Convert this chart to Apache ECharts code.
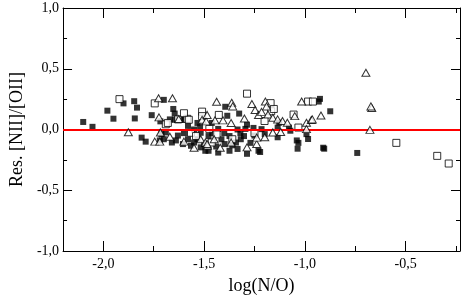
<!DOCTYPE html>
<html><head><meta charset="utf-8">
<script src="https://cdn.jsdelivr.net/npm/echarts@6/dist/echarts.min.js"></script>
<style>html,body{margin:0;padding:0;background:#fff}#c{width:463px;height:300px}</style>
</head><body><div id="c"></div>
<script>
var xMajorTicks = [-2.0, -1.5, -1.0, -0.5];
var xMinorTicks = [-1.75, -1.25, -0.75, -0.25];
var filledSquares = [[-2.10,0.062],[-2.054,0.022],[-1.90,0.215],[-1.98,0.155],[-1.95,0.089],[-1.847,0.233],[-1.833,0.18],[-1.844,0.091],[-1.81,-0.067],[-1.79,-0.10],[-1.76,0.118],[-1.70,0.244],[-1.653,0.169],[-1.646,0.131],[-1.67,0.083],[-1.613,0.083],[-1.712,-0.038],[-1.72,-0.09],[-1.69,-0.024],[-1.63,-0.05],[-1.64,-0.09],[-1.717,0.067],[-1.645,0.08],[-1.597,0.08],[-1.533,0.054],[-1.517,-0.027],[-1.55,0.0],[-1.70,-0.08],[-1.66,-0.107],[-1.605,-0.12],[-1.58,-0.08],[-1.565,-0.134],[-1.55,-0.107],[-1.533,-0.08],[-1.517,-0.147],[-1.50,-0.12],[-1.494,-0.175],[-1.395,0.187],[-1.385,0.113],[-1.462,0.054],[-1.43,0.005],[-1.287,0.04],[-1.295,0.005],[-1.334,0.0],[-1.255,0.013],[-1.478,-0.054],[-1.414,-0.08],[-1.398,-0.12],[-1.374,-0.054],[-1.342,-0.107],[-1.318,-0.08],[-1.302,-0.054],[-1.334,-0.16],[-1.287,-0.2],[-1.23,-0.175],[-1.478,-0.175],[-1.43,-0.19],[-1.374,-0.175],[-1.326,0.131],[-1.127,0.056],[-1.135,0.016],[-1.079,0.016],[-1.072,-0.01],[-1.215,0.003],[-1.199,-0.038],[-1.135,-0.064],[-1.04,-0.09],[-0.992,-0.038],[-0.984,-0.078],[-1.036,-0.158],[-0.904,-0.158],[-1.222,-0.185],[-1.032,-0.11],[-0.931,0.23],[-0.925,0.252],[-0.874,0.15],[-0.909,-0.15],[-0.74,-0.193],[-1.46,-0.03],[-1.44,-0.14],[-1.40,-0.03],[-1.36,-0.13],[-1.32,-0.03],[-1.27,-0.11],[-1.25,-0.05],[-1.60,-0.03],[-1.58,0.03],[-1.52,0.02]];
var openSquares = [[-1.92,0.25],[-1.745,0.215],[-1.69,0.043],[-1.629,0.083],[-1.584,0.088],[-1.68,0.054],[-1.60,0.134],[-1.576,0.08],[-1.51,0.147],[-1.565,-0.027],[-1.54,-0.054],[-1.287,0.295],[-1.427,0.12],[-1.474,0.005],[-1.438,-0.04],[-1.462,-0.107],[-1.17,0.217],[-1.167,0.15],[-1.056,0.123],[-1.032,0.016],[-1.2,0.07],[-0.984,0.23],[-0.96,0.23],[-1.154,0.169],[-1.51,0.11],[-1.36,-0.08],[-1.25,-0.03],[-0.546,-0.11],[-0.343,-0.217],[-0.286,-0.28]];
var openTriangles = [[-1.876,-0.022],[-1.745,-0.10],[-1.726,0.257],[-1.657,0.257],[-1.724,0.10],[-1.717,-0.024],[-1.67,-0.059],[-1.626,0.086],[-1.51,0.08],[-1.49,0.067],[-1.517,-0.08],[-1.494,-0.107],[-1.483,-0.134],[-1.72,-0.10],[-1.438,0.228],[-1.363,0.22],[-1.358,0.19],[-1.263,0.21],[-1.247,0.16],[-1.23,0.12],[-1.485,0.12],[-1.406,0.075],[-1.446,0.075],[-1.366,0.054],[-1.366,-0.107],[-1.287,-0.147],[-1.239,-0.12],[-1.239,-0.067],[-1.485,-0.12],[-1.196,0.23],[-1.19,0.19],[-1.215,0.145],[-1.183,0.123],[-1.159,0.097],[-1.135,0.083],[-1.111,0.07],[-1.087,0.056],[-1.016,0.23],[-0.992,0.056],[-0.968,0.078],[-1.159,-0.024],[-1.199,-0.064],[-0.992,0.003],[-0.92,0.115],[-0.963,0.083],[-0.697,0.467],[-0.668,0.177],[-0.672,0.19],[-0.677,-0.003],[-1.42,-0.15],[-1.55,-0.15],[-1.60,-0.1],[-1.45,-0.08],[-1.30,0.09],[-1.05,0.11],[-1.12,-0.02]];

var FONT = '"Liberation Serif", "DejaVu Serif", serif';
var XMIN = -2.2, XMAX = -0.23;
function fmt(v){ return v.toFixed(1).replace('.', ','); }
function xAx(pos, ticks, len, labels, line){
  return {
    type:'value', position:pos, min:XMIN, max:XMAX,
    axisLine:{show:line, onZero:false, lineStyle:{color:'#000', width:1}},
    axisTick:{show:true, inside:true, length:len, customValues:ticks, lineStyle:{color:'#000'}},
    axisLabel:{show:labels, customValues:ticks, formatter:fmt, fontFamily:FONT, fontSize:14, color:'#000', margin:6},
    splitLine:{show:false}
  };
}
var chart = echarts.init(document.getElementById('c'), null, {renderer:'canvas'});
var xb = xAx('bottom', xMajorTicks, 10, true, true);
xb.name = 'log(N/O)'; xb.nameLocation = 'middle'; xb.nameGap = 26;
xb.nameTextStyle = {fontFamily:FONT, fontSize:18, color:'#000'};
function yAx(pos, labels){
  return {
    type:'value', position:pos, min:-1, max:1, interval:0.5,
    axisLine:{show:true, onZero:false, lineStyle:{color:'#000', width:1}},
    axisTick:{show:true, inside:true, length:9, lineStyle:{color:'#000'}},
    minorTick:{show:true, splitNumber:2, length:4, lineStyle:{color:'#000'}},
    axisLabel:{show:labels, formatter:fmt, fontFamily:FONT, fontSize:14, color:'#000', margin:4},
    splitLine:{show:false}
  };
}
var yl = yAx('left', true);
yl.name = 'Res. [NII]/[OII]'; yl.nameLocation = 'middle'; yl.nameGap = 30;
yl.nameTextStyle = {fontFamily:FONT, fontSize:18, color:'#000'};
chart.setOption({
  animation:false,
  textStyle:{fontFamily:FONT},
  grid:{left:47, right:3, top:8, bottom:44},
  xAxis:[xb, xAx('bottom', xMinorTicks, 5, false, false), xAx('top', xMajorTicks, 10, false, true), xAx('top', xMinorTicks, 5, false, false)],
  yAxis:[yl, yAx('right', false)],
  series:[
    {type:'scatter', data:filledSquares, symbol:'rect', symbolSize:6, itemStyle:{color:'#000'}, z:3,
     markLine:{silent:true, symbol:'none', label:{show:false}, lineStyle:{color:'#ff0000', width:2, type:'solid'}, data:[{yAxis:0}]}},
    {type:'scatter', data:openSquares, symbol:'rect', symbolSize:7, itemStyle:{color:'#fff', borderColor:'#000', borderWidth:1}, z:4},
    {type:'scatter', data:openTriangles, symbol:'triangle', symbolSize:[8,7], itemStyle:{color:'#fff', borderColor:'#000', borderWidth:1}, z:5}
  ]
});
</script></body></html>
